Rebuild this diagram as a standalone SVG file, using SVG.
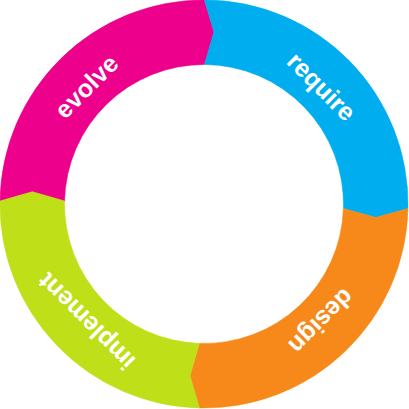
<svg xmlns="http://www.w3.org/2000/svg" width="409" height="409" viewBox="0 0 409 409">
  <style>
    .seg { stroke-width: 0.6; stroke-linejoin: miter; }
    .lbl { font-family: "Liberation Sans", Arial, Helvetica, sans-serif; font-weight: bold; font-size: 25px; fill: #ffffff; text-anchor: middle; }
  </style>
  <rect width="409" height="409" fill="#ffffff"/>
  <g id="evolve">
    <path class="seg" fill="#EC008C" stroke="#EC008C" d="M0.02,201 A204,204 0 0 1 204.5,0 L214,32 L204.5,64.5 A139.5,139.5 0 0 0 64.53,201 L32.3,191.7 Z"/>
    <text class="lbl" transform="translate(204 204) rotate(-45)" x="0" y="-157.5">evolve</text>
  </g>
  <g id="require">
    <path class="seg" fill="#00AEEF" stroke="#00AEEF" d="M204.5,0 A204,204 0 0 1 407.95,208.5 L375.7,217.5 L343.43,208.5 A139.5,139.5 0 0 0 204.5,64.5 L214,32 Z"/>
    <text class="lbl" transform="translate(204 204) rotate(45)" x="0" y="-157.5">require</text>
  </g>
  <g id="design">
    <path class="seg" fill="#F7891A" stroke="#F7891A" d="M407.95,208.5 A204,204 0 0 1 199.3,407.95 L190,375.7 L199.3,343.42 A139.5,139.5 0 0 0 343.43,208.5 L375.7,217.5 Z"/>
    <text class="lbl" transform="translate(204 204) rotate(135)" x="0" y="-157.5">design</text>
  </g>
  <g id="implement">
    <path class="seg" fill="#BFDF18" stroke="#BFDF18" d="M199.3,407.95 A204,204 0 0 1 0.02,201 L32.3,191.7 L64.53,201 A139.5,139.5 0 0 0 199.3,343.42 L190,375.7 Z"/>
    <text class="lbl" transform="translate(204 204) rotate(225)" x="0" y="-157.5">implement</text>
  </g>
</svg>
